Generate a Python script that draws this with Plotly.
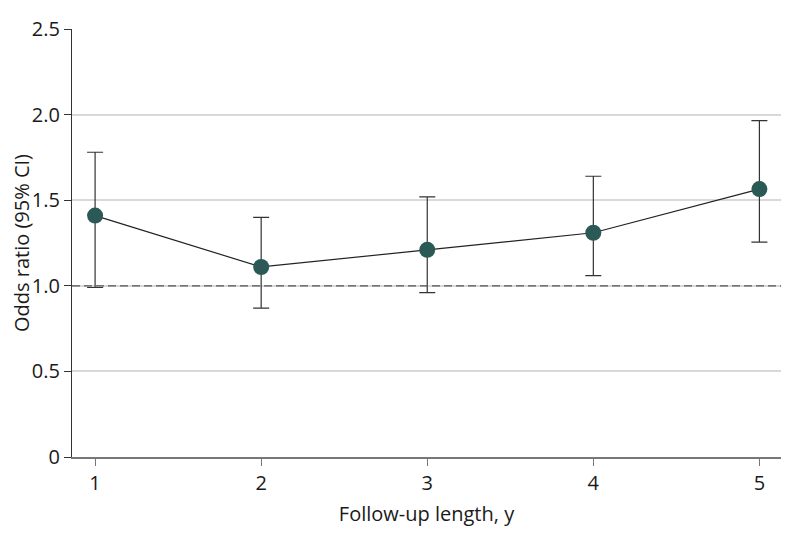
import plotly.graph_objects as go

years = [1, 2, 3, 4, 5]
odds_ratio = [1.41, 1.11, 1.21, 1.31, 1.565]
ci_low = [0.99, 0.87, 0.96, 1.06, 1.255]
ci_high = [1.78, 1.40, 1.52, 1.64, 1.965]

y_ticks = [0, 0.5, 1.0, 1.5, 2.0, 2.5]
y_labels = ["0", "0.5", "1.0", "1.5", "2.0", "2.5"]

FONT = "Open Sans, Noto Sans, sans-serif"
MARKER = "#2b5955"

fig = go.Figure()
fig.add_hline(y=1.0, line=dict(color="#555555", width=1.3, dash="8px,4px"))
fig.add_trace(go.Scatter(
    x=years, y=odds_ratio, mode="lines+markers",
    line=dict(color="#222222", width=1.2),
    marker=dict(color=MARKER, size=16),
    error_y=dict(
        type="data", symmetric=False,
        array=[h - v for h, v in zip(ci_high, odds_ratio)],
        arrayminus=[v - l for v, l in zip(odds_ratio, ci_low)],
        color="#333333", thickness=1.2, width=8,
    ),
    showlegend=False,
))

# page body has an 8px margin, so the figure is sized/offset to land where the reference sits
fig.update_layout(
    width=786, height=534,
    paper_bgcolor="white", plot_bgcolor="white",
    font=dict(family=FONT, color="#1a1a1a", size=20),
    margin=dict(l=64, r=13, t=21, b=85),
    xaxis=dict(
        range=[0.861, 5.13], tickvals=years, ticktext=[str(v) for v in years],
        showgrid=False, zeroline=False, automargin=False,
        showline=True, linecolor="#777777", linewidth=1.5,
        ticks="outside", ticklen=7, tickcolor="#777777",
        tickfont=dict(size=20),
        title=dict(text="Follow-up length, y", font=dict(size=20), standoff=12),
    ),
    yaxis=dict(
        range=[0, 2.5], tickvals=y_ticks, ticktext=y_labels,
        showgrid=True, gridcolor="#d9d9d9", gridwidth=1.5, zeroline=False,
        automargin=False,
        showline=True, linecolor="#333333", linewidth=1.2,
        ticks="outside", ticklen=7, tickcolor="#333333",
        tickfont=dict(size=20),
        title=dict(text="Odds ratio (95% CI)", font=dict(size=20), standoff=10),
    ),
)

fig.write_html("out.html")
